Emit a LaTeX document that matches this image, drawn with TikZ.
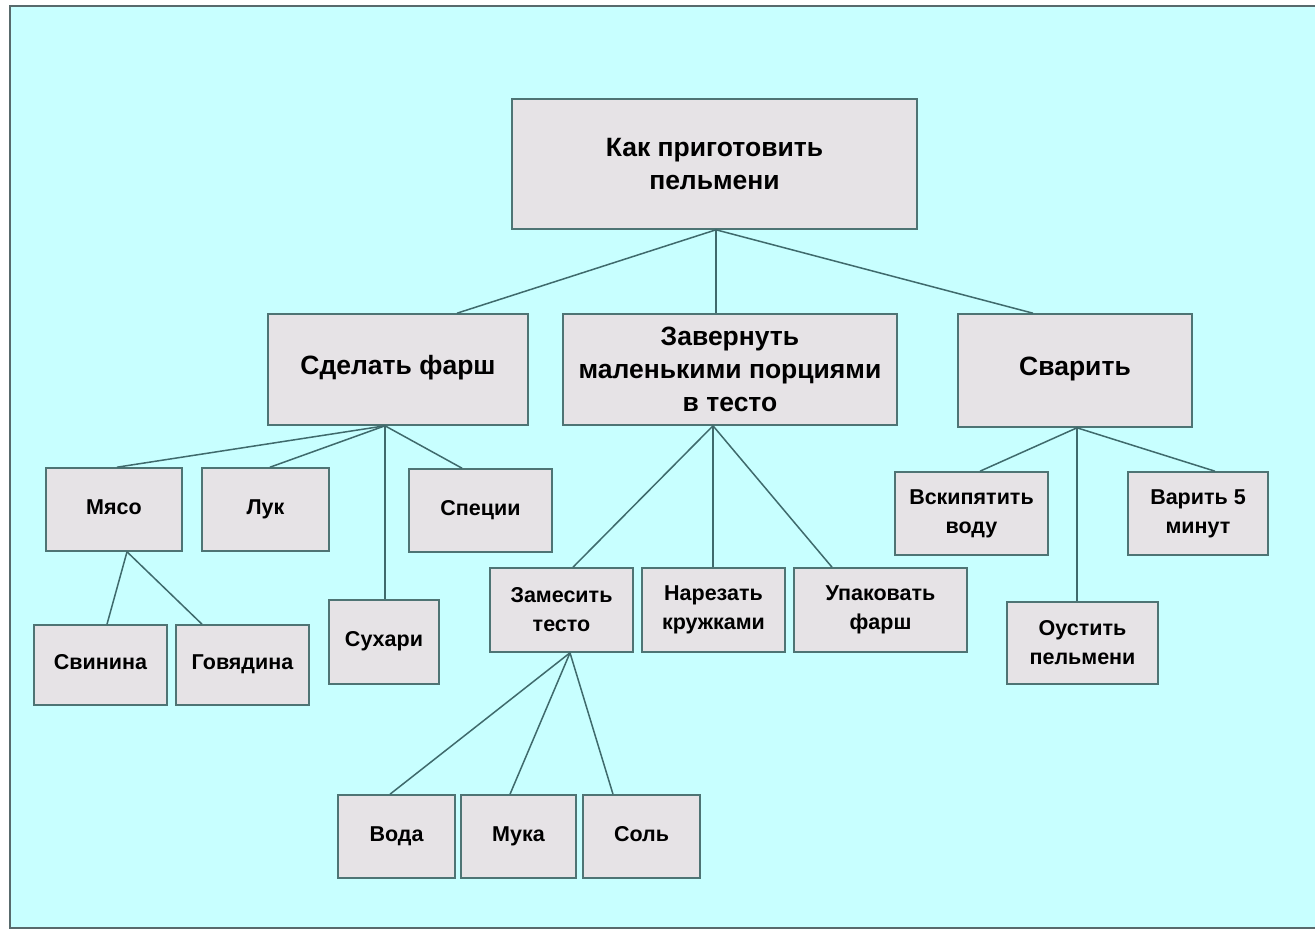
\documentclass[tikz,border=0pt]{standalone}
\usepackage{fontspec}
\setmainfont{Liberation Sans}
\definecolor{bgc}{HTML}{C8FFFF}
\definecolor{boxc}{HTML}{E6E3E6}
\definecolor{edgec}{HTML}{4E7474}
\definecolor{linec}{HTML}{3F6A6C}
\definecolor{framec}{HTML}{586A6C}
\tikzset{
  big/.style={draw=edgec, fill=boxc, line width=1.6pt, align=center, inner sep=0pt,
    font=\fontsize{26.5}{33}\selectfont\bfseries},
  small/.style={draw=edgec, fill=boxc, line width=1.6pt, align=center, inner sep=0pt,
    font=\fontsize{21.5}{29}\selectfont\bfseries},
  one/.style={text height=0.9em, text depth=0em},
  conn/.style={draw=linec, line width=1.5pt}
}
\begin{document}
\begin{tikzpicture}[x=1pt,y=-1pt]
\useasboundingbox (0,0) rectangle (1315,945);
\fill[white] (0,0) rectangle (1315,945);
\draw[framec, line width=2pt, fill=bgc] (10,6) rectangle (1330,928);
% level 1
\node[big, minimum width=405, minimum height=130] (root) at (714.5,164) {Как приготовить\\пельмени};
% level 2
\node[big, one, minimum width=260, minimum height=111] (sf) at (398,369.5) {Сделать фарш};
\node[big, minimum width=334, minimum height=111] (zav) at (730,369.5) {Завернуть\\маленькими порциями\\в тесто};
\node[big, one, minimum width=234, minimum height=113] (sv) at (1075,370.5) {Сварить};
% level 3
\node[small, one, minimum width=136, minimum height=83] (myaso) at (114,509.5) {Мясо};
\node[small, one, minimum width=127, minimum height=83] (luk) at (265.5,509.5) {Лук};
\node[small, one, minimum width=143, minimum height=83] (spec) at (480.5,510.5) {Специи};
\node[small, one, minimum width=110, minimum height=84] (suh) at (384,642) {Сухари};
\node[small, one, minimum width=133, minimum height=80] (svin) at (100.5,665) {Свинина};
\node[small, one, minimum width=133, minimum height=80] (gov) at (242.5,665) {Говядина};
\node[small, minimum width=143, minimum height=84] (zam) at (561.5,610) {Замесить\\тесто};
\node[small, minimum width=143, minimum height=84] (nar) at (713.5,610) {Нарезать\\кружками};
\node[small, minimum width=173, minimum height=84] (upa) at (880.5,610) {Упаковать\\фарш};
\node[small, one, minimum width=117, minimum height=83] (voda) at (396.5,836.5) {Вода};
\node[small, one, minimum width=115, minimum height=83] (muka) at (518.5,836.5) {Мука};
\node[small, one, minimum width=117, minimum height=83] (sol) at (641.5,836.5) {Соль};
\node[small, minimum width=153, minimum height=83] (vsk) at (971.5,513.5) {Вскипятить\\воду};
\node[small, minimum width=140, minimum height=83] (var) at (1198,513.5) {Варить 5\\минут};
\node[small, minimum width=151, minimum height=82] (ous) at (1082.5,643) {Оустить\\пельмени};
% connectors
\draw[conn] ([xshift=1.5pt]root.south) -- ([xshift=59pt]sf.north);
\draw[conn] ([xshift=1.5pt]root.south) -- ([xshift=-14pt]zav.north);
\draw[conn] ([xshift=1.5pt]root.south) -- ([xshift=-42pt]sv.north);
\draw[conn] ([xshift=-13pt]sf.south) -- ([xshift=3pt]myaso.north);
\draw[conn] ([xshift=-13pt]sf.south) -- ([xshift=4.5pt]luk.north);
\draw[conn] ([xshift=-13pt]sf.south) -- ([xshift=-18.5pt]spec.north);
\draw[conn] ([xshift=-13pt]sf.south) -- ([xshift=1pt]suh.north);
\draw[conn] ([xshift=-17pt]zav.south) -- ([xshift=11.5pt]zam.north);
\draw[conn] ([xshift=-17pt]zav.south) -- ([xshift=-0.5pt]nar.north);
\draw[conn] ([xshift=-17pt]zav.south) -- ([xshift=-48.5pt]upa.north);
\draw[conn] ([xshift=2pt]sv.south) -- ([xshift=8.5pt]vsk.north);
\draw[conn] ([xshift=2pt]sv.south) -- ([xshift=17pt]var.north);
\draw[conn] ([xshift=2pt]sv.south) -- ([xshift=-5.5pt]ous.north);
\draw[conn] ([xshift=8.5pt]zam.south) -- ([xshift=-6.5pt]voda.north);
\draw[conn] ([xshift=8.5pt]zam.south) -- ([xshift=-8.5pt]muka.north);
\draw[conn] ([xshift=8.5pt]zam.south) -- ([xshift=-28.5pt]sol.north);
\draw[conn] ([xshift=13pt]myaso.south) -- ([xshift=6.5pt]svin.north);
\draw[conn] ([xshift=13pt]myaso.south) -- ([xshift=-40.5pt]gov.north);
\end{tikzpicture}
\end{document}
